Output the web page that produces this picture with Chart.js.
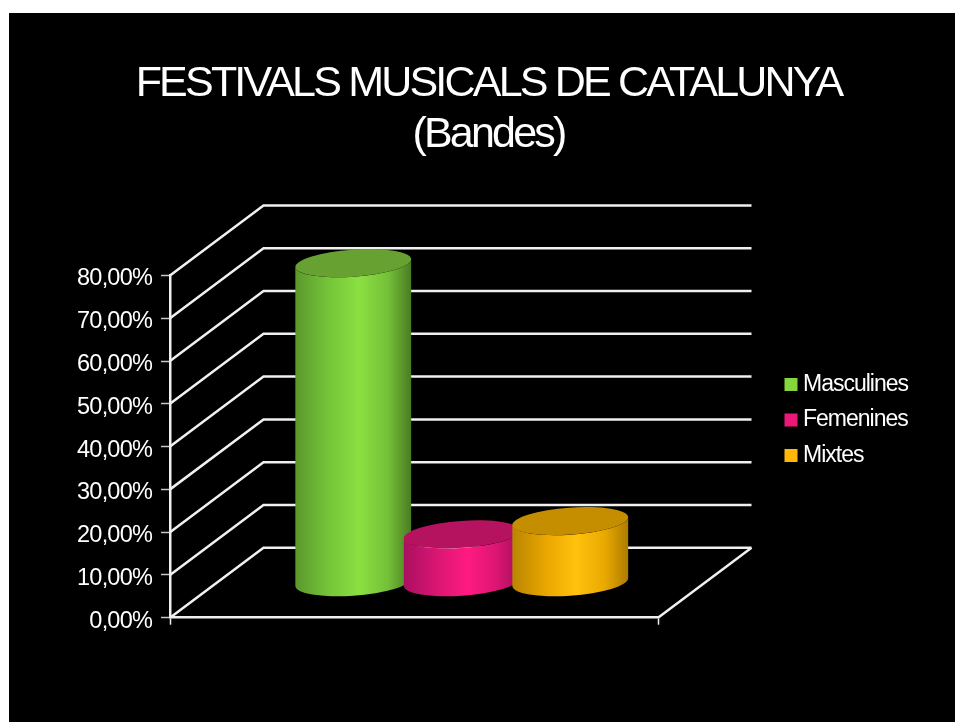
<!DOCTYPE html>
<html>
<head>
<meta charset="utf-8">
<title>Festivals musicals de Catalunya</title>
<script src="https://cdn.jsdelivr.net/npm/chart.js@4"></script>
<style>
  html, body { margin: 0; background: #fff; overflow: hidden; }
  #chart { position: absolute; left: 9px; top: 13px; background: #000; }
</style>
</head>
<body>
<canvas id="chart" width="946" height="709"></canvas>
<script>
const titleLines = ['FESTIVALS MUSICALS DE CATALUNYA', '(Bandes)'];
const categories = [''];
const seriesNames = ['Masculines', 'Femenines', 'Mixtes'];
const masculines = [74.7];
const femenines = [11.3];
const mixtes = [14.4];
const seriesValues = [masculines, femenines, mixtes];
const yTicks = [0, 10, 20, 30, 40, 50, 60, 70, 80];

const legendColors = ['#84d63e', '#ec1878', '#ffb80a'];
// costat del cilindre, d'esquerra a dreta
const sideColors = [
  ['#5a982c', '#76c63a', '#8be041', '#74c038', '#4a7c23'],
  ['#a90f60', '#dc1673', '#ff1a82', '#dc1673', '#a30e5c'],
  ['#b98500', '#eba700', '#ffc20e', '#e9a800', '#ac7c00']
];
const capColors = ['#66a131', '#b5135f', '#c48e00'];
const gridColor = '#f0f0f0';

// fons del gràfic 3D: desplaçament de la paret del fons
const depthX = 93.5;
const depthY = -70;

function drawWalls(chart) {
  const ctx = chart.ctx;
  const yScale = chart.scales.y;
  const { left, right, bottom } = chart.chartArea;
  ctx.save();
  ctx.strokeStyle = gridColor;
  ctx.lineWidth = 2.5;
  yTicks.forEach((tick) => {
    const y = yScale.getPixelForValue(tick);
    ctx.beginPath();
    ctx.moveTo(left, y);
    ctx.lineTo(left + depthX, y + depthY);
    ctx.lineTo(right + depthX, y + depthY);
    ctx.stroke();
  });
  //terra, costat dret
  ctx.beginPath();
  ctx.moveTo(right, bottom);
  ctx.lineTo(right + depthX, bottom + depthY);
  ctx.stroke();
  ctx.restore();
}

function drawCylinder(ctx, bar, index) {
  const rx = (bar.width * 1.07) / 2;
  const ry = 13.5;
  const tilt = (-4 * Math.PI) / 180;
  const cx = bar.x + depthX / 2 + 1;
  const topY = bar.y + depthY / 2;
  const baseY = bar.base + depthY / 2;
  // angle on l'el·lipse inclinada toca el seu extrem dret
  const t0 = Math.atan2(-ry * Math.sin(tilt), rx * Math.cos(tilt));

  const side = ctx.createLinearGradient(cx - rx, 0, cx + rx, 0);
  [0, 0.3, 0.55, 0.8, 1].forEach((stop, i) => side.addColorStop(stop, sideColors[index][i]));

  ctx.save();
  ctx.beginPath();
  ctx.ellipse(cx, baseY, rx, ry, tilt, t0, t0 + Math.PI);
  ctx.ellipse(cx, topY, rx, ry, tilt, t0 + Math.PI, t0, true);
  ctx.closePath();
  ctx.fillStyle = side;
  ctx.fill();

  ctx.beginPath();
  ctx.ellipse(cx, topY, rx, ry, tilt, 0, Math.PI * 2);
  ctx.fillStyle = capColors[index];
  ctx.fill();
  ctx.restore();
}

function withSpacing(box, method, spacing) {
  const draw = box[method];
  box[method] = function (area) {
    box.ctx.letterSpacing = spacing;
    draw.call(box, area);
    box.ctx.letterSpacing = '0px';
  };
}

const cylinderPlugin = {
  id: 'cylinders',
  afterLayout(chart) {
    // títol i llegenda no segueixen l'àrea del gràfic
    chart.titleBlock.left = 13;
    chart.titleBlock.right = 946;
    chart.legend.left = 769;
    chart.legend.right = 940;
    chart.legend.top = 347.5;
    chart.legend.bottom = 470;
    if (!chart.$spaced) {
      withSpacing(chart.titleBlock, 'draw', '-2.8px');
      withSpacing(chart.legend, 'draw', '-1px');
      withSpacing(chart.scales.y, 'drawLabels', '-0.8px');
      chart.$spaced = true;
    }
  },
  beforeDatasetsDraw(chart) {
    drawWalls(chart);
    seriesValues.forEach((values, i) => {
      chart.getDatasetMeta(i).data.forEach((bar) => drawCylinder(chart.ctx, bar, i));
    });
    return false;
  }
};

const datasets = seriesNames.map((name, i) => ({
  label: name,
  data: seriesValues[i],
  backgroundColor: legendColors[i],
  borderColor: legendColors[i]
}));

new Chart(document.getElementById('chart'), {
  type: 'bar',
  data: { labels: categories, datasets },
  plugins: [cylinderPlugin],
  options: {
    responsive: false,
    animation: false,
    events: [],
    layout: { padding: { left: 0, top: 0, right: 297, bottom: 97.3 } },
    categoryPercentage: 0.667,
    barPercentage: 1,
    scales: {
      x: {
        grid: { drawOnChartArea: false, tickLength: 7, tickColor: gridColor, tickWidth: 1.5 },
        border: { color: gridColor, width: 2.5 },
        ticks: { display: false }
      },
      y: {
        min: 0,
        max: 80,
        afterFit(scale) {
          scale.width = 161;
        },
        afterBuildTicks(scale) {
          scale.ticks = yTicks.map((value) => ({ value }));
        },
        grid: { drawOnChartArea: false, tickLength: 9, tickColor: '#c8c8c8', tickWidth: 1.5 },
        border: { color: gridColor, width: 2.5 },
        ticks: {
          color: '#fff',
          padding: 9,
          labelOffset: 3.5,
          font: { family: '"Liberation Sans"', size: 23.5 },
          callback: (value) => value.toFixed(2).replace('.', ',') + '%'
        }
      }
    },
    plugins: {
      tooltip: { enabled: false },
      title: {
        display: true,
        text: titleLines,
        color: '#fff',
        padding: { top: 46, bottom: 114.5 },
        font: { family: '"Liberation Sans"', size: 43, weight: 'normal', lineHeight: 51 / 43 }
      },
      legend: {
        position: 'chartArea',
        align: 'start',
        labels: {
          color: '#fff',
          font: { family: '"Liberation Sans"', size: 23 },
          boxWidth: 1,
          boxHeight: 1,
          padding: 12.5,
          //quadrat de 13px amb un traç gruixut, el text queda a prop
          generateLabels(chart) {
            return Chart.defaults.plugins.legend.labels.generateLabels(chart).map((item) => ({
              ...item,
              lineWidth: 12
            }));
          }
        }
      }
    }
  }
});
</script>
</body>
</html>
